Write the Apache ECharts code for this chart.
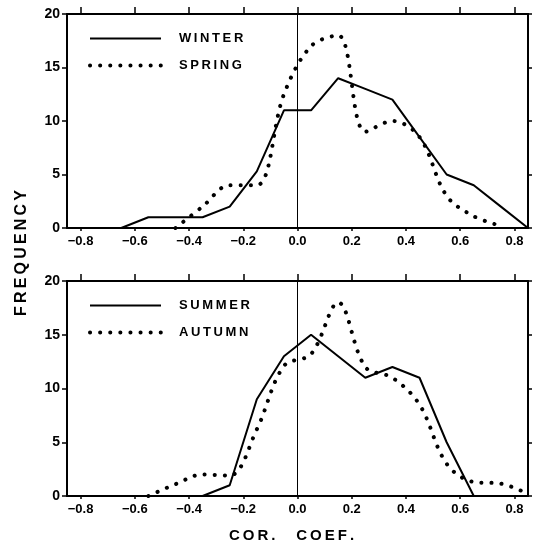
<!DOCTYPE html>
<html>
<head>
<meta charset="utf-8">
<script src="https://cdn.jsdelivr.net/npm/echarts@6/dist/echarts.min.js"></script>
<style>
  html, body { margin: 0; padding: 0; background: #fff; }
  #chart { width: 541px; height: 548px; }
</style>
</head>
<body>
<div id="chart"></div>
<script>
// tick positions on the correlation axis
const xTicks = [-0.8, -0.6, -0.4, -0.2, 0, 0.2, 0.4, 0.6, 0.8]

// frequency per correlation bin (bin centres)
const winterX = [-0.65, -0.55, -0.45, -0.35, -0.25, -0.15, -0.05, 0.05, 0.15, 0.25, 0.35, 0.45, 0.55, 0.65, 0.75, 0.85]
const winterY = [0, 1, 1, 1, 2, 5.3, 11, 11, 14, 13, 12, 8.5, 5, 4, 2, 0]

const springX = [-0.45, -0.35, -0.25, -0.15, -0.05, 0.05, 0.15, 0.25, 0.35, 0.45, 0.55, 0.65, 0.75]
const springY = [0, 2, 4, 4, 12.5, 17, 18, 9, 10, 8.5, 3, 1.1, 0.2]

const summerX = [-0.35, -0.25, -0.15, -0.05, 0.05, 0.15, 0.25, 0.35, 0.45, 0.55, 0.65]
const summerY = [0, 1, 9, 13, 15, 13, 11, 12, 11, 5, 0]

const autumnX = [-0.55, -0.45, -0.35, -0.25, -0.15, -0.05, 0.05, 0.15, 0.25, 0.35, 0.45, 0.55, 0.65, 0.75, 0.85]
const autumnY = [0, 1.1, 2, 1.9, 6.2, 12.1, 13.2, 18, 12, 11, 8.5, 3, 1.3, 1.15, 0.2]

const FONT = 'Liberation Sans'
const spaced = s => s.split('').join('\u2009')
const pairs = (xs, ys) => xs.map((x, i) => [x, ys[i]])

const solidStyle = { color: '#000', width: 2, type: 'solid' }
const dotStyle = { color: '#000', width: 4, type: [0.1, 10], cap: 'round' }

const chart = echarts.init(document.getElementById('chart'))

const grids = [
  { left: 67, right: 13, top: 14, height: 214 },
  { left: 67, right: 13, top: 281, height: 215 }
]

function xAxes(g) {
  return [{
    type: 'value', gridIndex: g, position: 'bottom',
    min: -0.85, max: 0.85,
    axisLine: { onZero: false, lineStyle: { color: '#000', width: 2 } },
    axisTick: { customValues: xTicks, length: 3, lineStyle: { color: '#000', width: 1.5 } },
    axisLabel: {
      customValues: xTicks, margin: 7, color: '#000',
      fontFamily: FONT, fontWeight: 'bold', fontSize: 13,
      formatter: v => (v < 0 ? '\u2212' : '') + Math.abs(v).toFixed(1)
    },
    splitLine: { show: false },
    name: g === 1 ? spaced('COR.') + '     ' + spaced('COEF.') : '',
    nameLocation: 'middle', nameGap: 32,
    nameTextStyle: { color: '#000', fontFamily: FONT, fontWeight: 'bold', fontSize: 15, padding: [0, 12, 0, 0] }
  }, {
    type: 'value', gridIndex: g, position: 'top',
    min: -0.85, max: 0.85,
    axisLine: { onZero: false, lineStyle: { color: '#000', width: 2 } },
    axisTick: { customValues: xTicks, length: 7, lineStyle: { color: '#000', width: 1.5 } },
    axisLabel: { show: false },
    splitLine: { show: false }
  }]
}

function yAxes(g) {
  return [{
    type: 'value', gridIndex: g, position: 'left',
    min: 0, max: 20, interval: 5,
    axisLine: { show: true, onZero: false, lineStyle: { color: '#000', width: 2 } },
    axisTick: { show: true, length: 5, lineStyle: { color: '#000', width: 1.5 } },
    axisLabel: { margin: 7, color: '#000', fontFamily: FONT, fontWeight: 'bold', fontSize: 14 },
    splitLine: { show: false }
  }, {
    type: 'value', gridIndex: g, position: 'right',
    min: 0, max: 20, interval: 5,
    axisLine: { show: true, onZero: false, lineStyle: { color: '#000', width: 2 } },
    axisTick: { show: true, length: 4, lineStyle: { color: '#000', width: 1.5 } },
    axisLabel: { show: false },
    splitLine: { show: false }
  }]
}

function lineSeries(name, g, data, style, withZero) {
  const s = {
    name, type: 'line', xAxisIndex: g * 2, yAxisIndex: g * 2,
    data, symbol: 'none', lineStyle: style, itemStyle: { color: '#000' },
    smooth: style === dotStyle ? 0.35 : false,
    animation: false
  }
  if (withZero) {
    s.markLine = {
      silent: true, symbol: 'none', animation: false,
      label: { show: false },
      lineStyle: { color: '#000', width: 1, type: 'solid' },
      data: [{ xAxis: 0 }]
    }
  }
  return s
}

const hiddenMark = { color: 'rgba(0,0,0,0)', borderWidth: 0, opacity: 0 }

function legendFor(names, top) {
  return {
    orient: 'vertical', left: 88, top, padding: 0,
    itemWidth: 71, itemHeight: 14, itemGap: 14,
    selectedMode: false,
    formatter: spaced,
    textStyle: { color: '#000', fontFamily: FONT, fontWeight: 'bold', fontSize: 13, padding: [0, 0, 0, 13] },
    data: [
      { name: names[0], lineStyle: solidStyle, itemStyle: hiddenMark },
      { name: names[1], lineStyle: dotStyle, itemStyle: hiddenMark }
    ]
  }
}

chart.setOption({
  backgroundColor: '#fff',
  animation: false,
  grid: grids,
  xAxis: [...xAxes(0), ...xAxes(1)],
  yAxis: [...yAxes(0), ...yAxes(1)],
  legend: [
    legendFor(['WINTER', 'SPRING'], 32),
    legendFor(['SUMMER', 'AUTUMN'], 299)
  ],
  graphic: [{
    type: 'text', x: 22, y: 253, rotation: Math.PI / 2,
    style: {
      text: spaced('FREQUENCY'), fill: '#000',
      font: 'bold 16px "Liberation Sans"',
      align: 'center', verticalAlign: 'middle'
    }
  }],
  series: [
    lineSeries('WINTER', 0, pairs(winterX, winterY), solidStyle, true),
    lineSeries('SPRING', 0, pairs(springX, springY), dotStyle),
    lineSeries('SUMMER', 1, pairs(summerX, summerY), solidStyle, true),
    lineSeries('AUTUMN', 1, pairs(autumnX, autumnY), dotStyle)
  ]
})
</script>
</body>
</html>
